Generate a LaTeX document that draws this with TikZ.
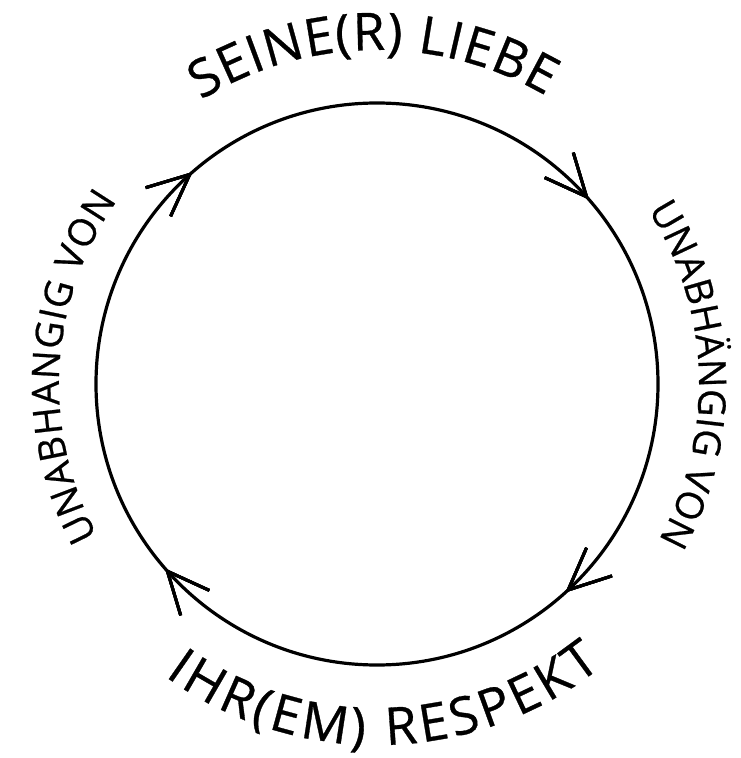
\documentclass[tikz,border=0pt]{standalone}
\usepackage{fontspec}
\setmainfont[FakeBold=0.6]{Open Sans}
\usetikzlibrary{decorations.text,decorations.markings,arrows.meta}
\newcommand\bigtxt{\fontsize{52pt}{52pt}\selectfont}
\newcommand\sidetxt{\fontsize{38pt}{38pt}\selectfont}
\tikzset{
  cycleline/.style={line width=3.2pt, black},
  cyclearrow/.style={decoration={markings,
      mark=at position #1 with {\arrow{Straight Barb[length=42pt,width=38pt,line width=3pt]}}},
      postaction={decorate}},
  arctext/.style={decorate, decoration={text along path, text={#1}, text align={fit to path}}}
}
\begin{document}
\begin{tikzpicture}[x=1pt,y=1pt]
\useasboundingbox (-377,-374) rectangle (364,384);
\coordinate (c) at (0,0);
% circle, drawn clockwise starting at the left
\draw[cycleline, cyclearrow=0.136, cyclearrow=0.386, cyclearrow=0.633, cyclearrow=0.886]
  (180:281) arc[start angle=180, end angle=-180, radius=281];
% texts along the circle
\path[arctext={|\bigtxt|SEINE(R) LIEBE}]
  (121.8:334) arc[start angle=121.8, end angle=59.6, radius=334];
\path[arctext={|\sidetxt|UNABHÄNGIG VON}]
  (32.7:322) arc[start angle=32.7, end angle=-29, radius=322];
\path[arctext={|\sidetxt|UNABHANGIG VON}]
  (208.5:318) arc[start angle=208.5, end angle=144.8, radius=318];
\path[arctext={|\bigtxt|IHR(EM) RESPEKT}]
  (-126:361) arc[start angle=-126, end angle=-51.5, radius=361];
\end{tikzpicture}
\end{document}
